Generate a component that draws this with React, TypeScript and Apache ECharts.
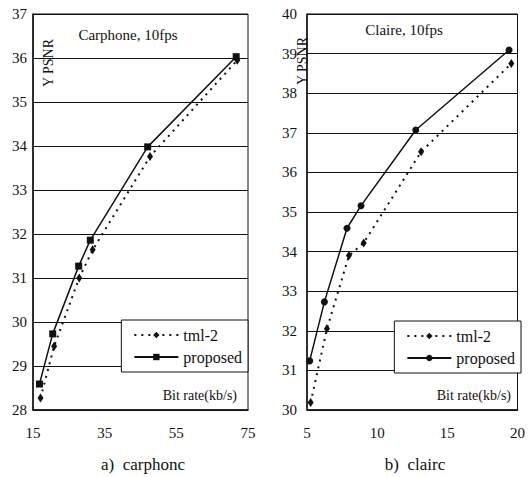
import React, { useEffect, useRef } from "react";
import * as echarts from "echarts";

// ---- Data ----
const carphoneRateTml = [17.1, 20.9, 27.9, 31.65, 47.65, 72.0];
const carphonePsnrTml = [28.27, 29.45, 31.0, 31.64, 33.76, 35.95];
const carphoneRateProp = [16.8, 20.5, 27.75, 31.0, 47.0, 71.7];
const carphonePsnrProp = [28.59, 29.73, 31.27, 31.86, 33.98, 36.03];

const claireRateTml = [5.26, 6.42, 7.99, 9.04, 13.13, 19.56];
const clairePsnrTml = [30.19, 32.05, 33.9, 34.22, 36.52, 38.75];
const claireRateProp = [5.19, 6.24, 7.85, 8.85, 12.75, 19.4];
const clairePsnrProp = [31.24, 32.73, 34.59, 35.16, 37.07, 39.09];

const seriesNames = ["tml-2", "proposed"];
const titles = ["Carphone, 10fps", "Claire, 10fps"];
const captions = ["a)  carphonc", "b)  clairc"];
const yLabel = "Y PSNR";
const xLabel = "Bit rate(kb/s)";

const FONT = "Liberation Serif";
const INK = "#111";

type Cfg = {
  rateTml: number[];
  psnrTml: number[];
  rateProp: number[];
  psnrProp: number[];
  xMin: number;
  xMax: number;
  xInt: number;
  yMin: number;
  yMax: number;
  gridLeft: number;
  gridWidth: number;
  labelMargin: number;
  legendRight: number;
  legendTop: number;
  title: string;
  titleX: number;
  titleY: number;
  yLabX: number;
  yLabY: number;
  bitRight: number;
  caption: string;
  captionX: number;
  propSymbol: string;
};

function zip(a: number[], b: number[]) {
  return a.map((v, i) => [v, b[i]]);
}

function buildOption(c: Cfg) {
  return {
    animation: false,
    backgroundColor: "#fff",
    textStyle: { fontFamily: FONT },
    grid: {
      left: c.gridLeft,
      top: 14,
      width: c.gridWidth,
      height: 396,
      show: true,
      borderColor: INK,
      borderWidth: 1,
      backgroundColor: "transparent",
    },
    xAxis: {
      type: "value",
      min: c.xMin,
      max: c.xMax,
      interval: c.xInt,
      axisLine: { show: true, lineStyle: { color: INK, width: 1.5 } },
      axisTick: { show: false },
      splitLine: { show: false },
      axisLabel: {
        color: INK,
        fontFamily: FONT,
        fontSize: 15,
        margin: 15,
      },
    },
    yAxis: {
      type: "value",
      min: c.yMin,
      max: c.yMax,
      interval: 1,
      axisLine: { show: true, lineStyle: { color: INK, width: 1.5 } },
      axisTick: { show: false },
      splitLine: { show: true, lineStyle: { color: INK, width: 1.2 } },
      axisLabel: {
        color: INK,
        fontFamily: FONT,
        fontSize: 15,
        margin: c.labelMargin,
      },
    },
    legend: {
      orient: "vertical",
      right: c.legendRight,
      top: c.legendTop,
      data: seriesNames,
      backgroundColor: "#fff",
      borderColor: INK,
      borderWidth: 1,
      padding: [7, 6, 7, 12],
      itemGap: 6,
      itemWidth: 44,
      itemHeight: 8,
      textStyle: { color: INK, fontFamily: FONT, fontSize: 16 },
      selectedMode: false,
      z: 10,
    },
    graphic: [
      {
        type: "text",
        x: c.titleX,
        y: c.titleY,
        style: {
          text: c.title,
          fill: INK,
          fontFamily: FONT,
          fontSize: 15,
          textAlign: "center",
          textVerticalAlign: "middle",
        },
        z: 20,
      },
      {
        type: "text",
        x: c.yLabX,
        y: c.yLabY,
        rotation: Math.PI / 2,
        style: {
          text: yLabel,
          fill: INK,
          fontFamily: FONT,
          fontSize: 14,
          textAlign: "center",
          textVerticalAlign: "middle",
        },
        z: 20,
      },
      {
        type: "text",
        x: c.bitRight,
        y: 395,
        style: {
          text: xLabel,
          fill: INK,
          fontFamily: FONT,
          fontSize: 14,
          textAlign: "right",
          textVerticalAlign: "middle",
        },
        z: 20,
      },
      {
        type: "text",
        x: c.captionX,
        y: 464,
        style: {
          text: c.caption,
          fill: INK,
          fontFamily: FONT,
          fontSize: 17,
          textAlign: "center",
          textVerticalAlign: "middle",
        },
        z: 20,
      },
    ],
    series: [
      {
        name: seriesNames[0],
        type: "line",
        data: zip(c.rateTml, c.psnrTml),
        symbol: "diamond",
        symbolSize: [6, 9],
        lineStyle: { color: INK, width: 2, type: [2, 5] },
        itemStyle: { color: INK },
        z: 3,
      },
      {
        name: seriesNames[1],
        type: "line",
        data: zip(c.rateProp, c.psnrProp),
        symbol: c.propSymbol,
        symbolSize: 7,
        lineStyle: { color: INK, width: 1.5, type: "solid" },
        itemStyle: { color: INK },
        z: 4,
      },
    ],
  };
}

const cfgs: Cfg[] = [
  {
    rateTml: carphoneRateTml,
    psnrTml: carphonePsnrTml,
    rateProp: carphoneRateProp,
    psnrProp: carphonePsnrProp,
    xMin: 15,
    xMax: 75,
    xInt: 20,
    yMin: 28,
    yMax: 37,
    gridLeft: 33,
    gridWidth: 215,
    labelMargin: 6,
    legendRight: 16,
    legendTop: 320,
    title: titles[0],
    titleX: 128,
    titleY: 35,
    yLabX: 48,
    yLabY: 63,
    bitRight: 237,
    caption: captions[0],
    captionX: 143,
    propSymbol: "rect",
  },
  {
    rateTml: claireRateTml,
    psnrTml: clairePsnrTml,
    rateProp: claireRateProp,
    psnrProp: clairePsnrProp,
    xMin: 5,
    xMax: 20,
    xInt: 5,
    yMin: 30,
    yMax: 40,
    gridLeft: 43,
    gridWidth: 214,
    labelMargin: 10,
    legendRight: 7,
    legendTop: 321,
    title: titles[1],
    titleX: 140,
    titleY: 30,
    yLabX: 38,
    yLabY: 61,
    bitRight: 247,
    caption: captions[1],
    captionX: 151,
    propSymbol: "circle",
  },
];

function Chart({ cfg, left }: { cfg: Cfg; left: number }) {
  const ref = useRef<HTMLDivElement>(null);
  useEffect(() => {
    if (!ref.current) return;
    const chart = echarts.init(ref.current, undefined, { renderer: "svg" });
    chart.setOption(buildOption(cfg) as any);
    return () => chart.dispose();
  }, [cfg]);
  return (
    <div
      ref={ref}
      style={{ position: "absolute", left, top: 0, width: 264, height: 477 }}
    />
  );
}

export default function App() {
  return (
    <div
      style={{
        position: "absolute",
        left: 0,
        top: 0,
        width: 528,
        height: 477,
        background: "#fff",
      }}
    >
      <Chart cfg={cfgs[0]} left={0} />
      <Chart cfg={cfgs[1]} left={264} />
    </div>
  );
}
